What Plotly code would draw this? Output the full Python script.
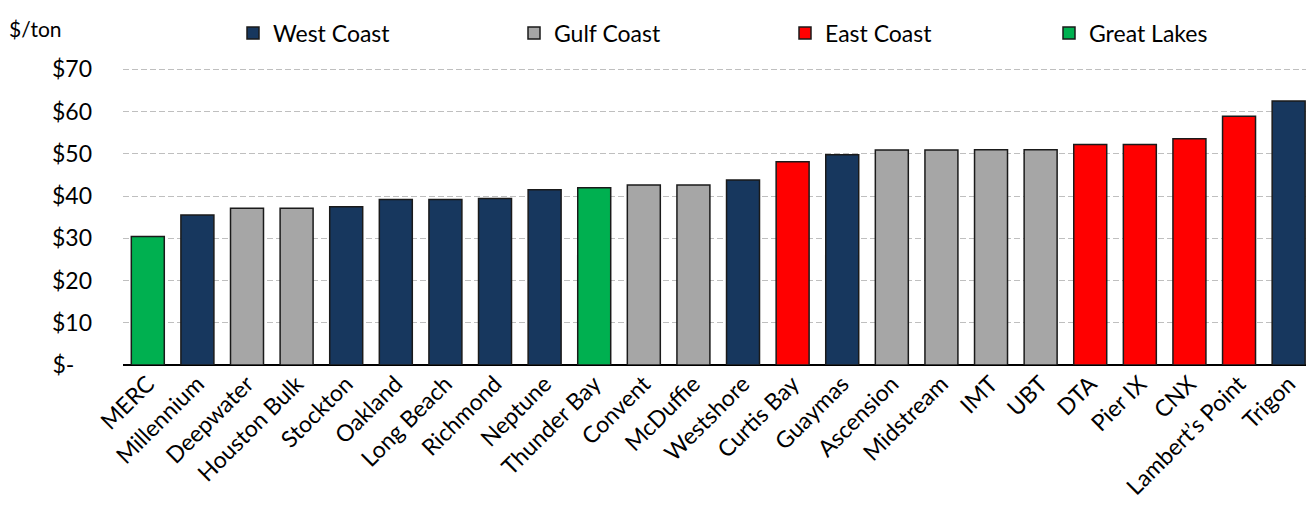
import plotly.graph_objects as go

categories = ["MERC", "Millennium", "Deepwater", "Houston Bulk", "Stockton", "Oakland",
              "Long Beach", "Richmond", "Neptune", "Thunder Bay", "Convent", "McDuffie",
              "Westshore", "Curtis Bay", "Guaymas", "Ascension", "Midstream", "IMT", "UBT",
              "DTA", "Pier IX", "CNX", "Lambert\u2019s Point", "Trigon"]
values = [30.4, 35.5, 37.1, 37.1, 37.5, 39.2, 39.2, 39.4, 41.5, 42.0, 42.6, 42.6,
          43.8, 48.1, 49.8, 50.9, 50.9, 51.0, 51.0, 52.2, 52.2, 53.6, 58.9, 62.5]
regions = ["Great Lakes", "West Coast", "Gulf Coast", "Gulf Coast", "West Coast", "West Coast",
           "West Coast", "West Coast", "West Coast", "Great Lakes", "Gulf Coast", "Gulf Coast",
           "West Coast", "East Coast", "West Coast", "Gulf Coast", "Gulf Coast", "Gulf Coast",
           "Gulf Coast", "East Coast", "East Coast", "East Coast", "East Coast", "West Coast"]
region_order = ["West Coast", "Gulf Coast", "East Coast", "Great Lakes"]
region_colors = {"West Coast": "#17375E", "Gulf Coast": "#A6A6A6",
                 "East Coast": "#FF0000", "Great Lakes": "#00B050"}
y_ticks = [0, 10, 20, 30, 40, 50, 60, 70]
y_tick_labels = ["$-   ", "$10", "$20", "$30", "$40", "$50", "$60", "$70"]

FONT = "Lato"
legend_x_px = [233, 514, 785, 1049]
legend_names = ["legend", "legend2", "legend3", "legend4"]

TOP = 61
PLOT_H = 523 - TOP - 158

fig = go.Figure()
for reg, lname in zip(region_order, legend_names):
    xs = [c for c, r in zip(categories, regions) if r == reg]
    ys = [v for v, r in zip(values, regions) if r == reg]
    fig.add_trace(go.Bar(
        x=xs, y=ys, name=reg, width=0.665, legend=lname, showlegend=True,
        marker=dict(color=region_colors[reg], line=dict(color="#1a1a1a", width=1.5)),
    ))

legend_layouts = {}
for lname, px in zip(legend_names, legend_x_px):
    legend_layouts[lname] = dict(
        orientation="h", xref="container", yref="container",
        x=px / 1306, xanchor="left", y=1 - 33 / 523, yanchor="middle",
        font=dict(family=FONT, size=23, color="black"),
        itemclick=False, bgcolor="rgba(0,0,0,0)")

fig.update_layout(
    width=1306, height=523,
    showlegend=True,
    barmode="overlay",
    plot_bgcolor="white", paper_bgcolor="white",
    margin=dict(l=123, r=0, t=TOP, b=158),
    font=dict(family=FONT, size=23, color="black"),
    xaxis=dict(categoryorder="array", categoryarray=categories,
               range=[-0.5, 23.35], tickangle=-45, showgrid=False,
               tickfont=dict(family=FONT, size=23, color="black"),
               showline=False, ticks=""),
    yaxis=dict(range=[0, 70.93], tickvals=y_ticks, ticktext=y_tick_labels,
               showgrid=True, gridcolor="#BFBFBF", gridwidth=1.3, griddash="6px,3px",
               zeroline=True, zerolinecolor="black", zerolinewidth=1.6,
               tickfont=dict(family=FONT, size=23, color="black"),
               ticklabelstandoff=30, showline=False),
    **legend_layouts,
)
fig.add_annotation(text="$/ton", xref="paper", yref="paper", x=(7 - 123) / 1183,
                   y=1 + (TOP - 23) / PLOT_H,
                   xanchor="left", yanchor="middle", showarrow=False,
                   font=dict(family=FONT, size=21, color="black"))

fig.write_html("out.html")
